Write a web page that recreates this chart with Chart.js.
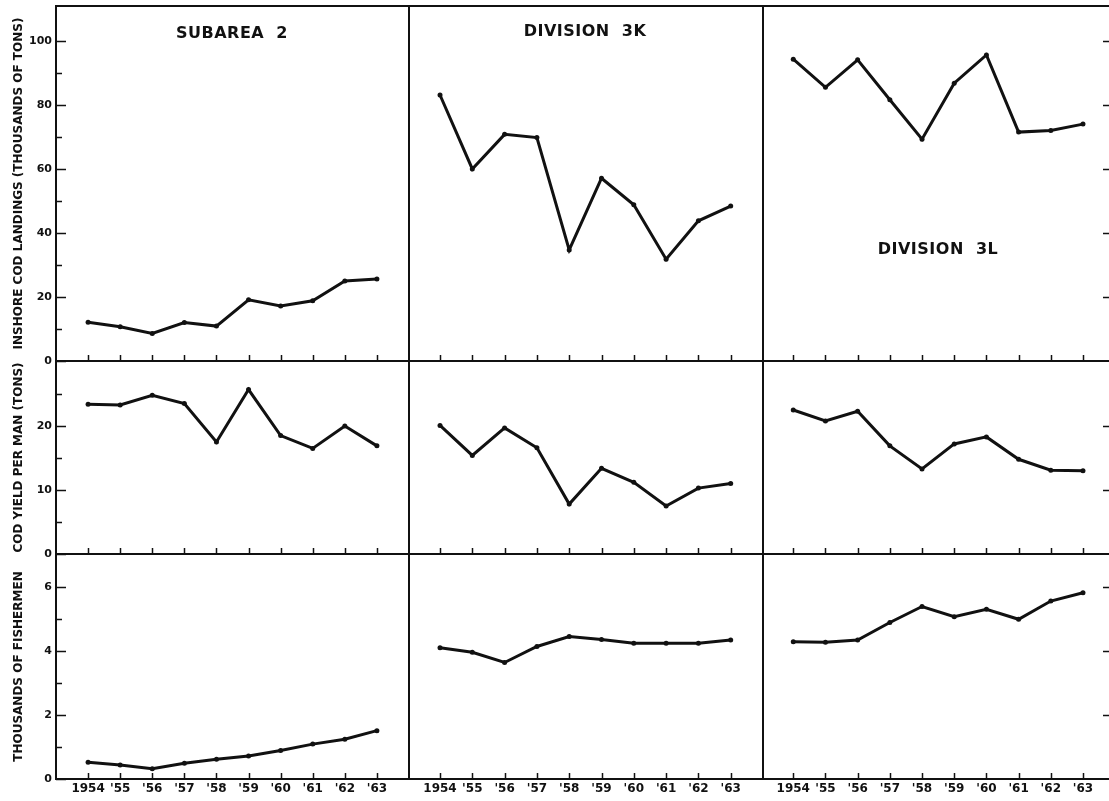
<!DOCTYPE html>
<html>
<head>
<meta charset="utf-8">
<script src="https://cdn.jsdelivr.net/npm/chart.js@4.4.0/dist/chart.umd.min.js"></script>
<style>
html, body { margin: 0; padding: 0; width: 1109px; height: 801px; overflow: hidden; background: #fff; }
canvas { position: absolute; }
.panel-title {
    position: absolute;
    font-family: "DejaVu Sans", sans-serif;
    font-weight: bold;
    font-size: 16px;
    letter-spacing: 0.5px;
    white-space: pre;
    color: #111;
    transform: translate(-50%, -50%);
}
</style>
</head>
<body>
<div id="panels"></div>
<div class="panel-title" style="left:232px; top:32px;">SUBAREA  2</div>
<div class="panel-title" style="left:585px; top:30px;">DIVISION  3K</div>
<div class="panel-title" style="left:938px; top:248px;">DIVISION  3L</div>
<script>
// values, 1954-1963
const years = [1954, 1955, 1956, 1957, 1958, 1959, 1960, 1961, 1962, 1963];
const yearLabels = ['1954', "'55", "'56", "'57", "'58", "'59", "'60", "'61", "'62", "'63"];

const landingsSubarea2 = [12.1, 10.7, 8.6, 12.0, 10.9, 19.1, 17.2, 18.8, 25.0, 25.6];
const landings3K = [83.1, 60.0, 70.8, 69.8, 34.7, 57.1, 48.8, 31.8, 43.8, 48.4];
const landings3L = [94.3, 85.5, 94.1, 81.6, 69.3, 86.8, 95.6, 71.5, 72.0, 74.0];

const yieldSubarea2 = [23.4, 23.3, 24.8, 23.5, 17.5, 25.7, 18.5, 16.5, 20.0, 16.9];
const yield3K = [20.1, 15.4, 19.7, 16.6, 7.8, 13.4, 11.2, 7.5, 10.3, 11.0];
const yield3L = [22.5, 20.8, 22.3, 16.9, 13.3, 17.2, 18.3, 14.8, 13.1, 13.0];

const fishermenSubarea2 = [0.52, 0.44, 0.32, 0.49, 0.62, 0.72, 0.89, 1.09, 1.24, 1.51];
const fishermen3K = [4.10, 3.96, 3.64, 4.14, 4.45, 4.36, 4.24, 4.24, 4.24, 4.34];
const fishermen3L = [4.29, 4.27, 4.34, 4.89, 5.39, 5.07, 5.30, 4.99, 5.56, 5.82];

// tick labels
const landingsTicks = [0, 20, 40, 60, 80, 100];
const landingsMinor = [10, 30, 50, 70, 90];
const yieldTicks = [0, 10, 20];
const yieldMinor = [5, 15, 25];
const fishermenTicks = [0, 2, 4, 6];
const fishermenMinor = [1, 3, 5];

const INK = '#111';
const FONT = '"DejaVu Sans", sans-serif';

// page geometry of the 3x3 grid
const cols = [
    { left: 56, right: 409, xMin: 1953.0, xMax: 1964.0 },
    { left: 409, right: 763, xMin: 1953.04, xMax: 1964.0 },
    { left: 763, right: 1111, xMin: 1953.06, xMax: 1963.87 }
];
const rows = [
    { top: 6, bottom: 361, max: 110.9, major: landingsTicks, minor: landingsMinor,
      title: 'INSHORE COD LANDINGS (THOUSANDS OF TONS)',
      series: [landingsSubarea2, landings3K, landings3L] },
    { top: 361, bottom: 554, max: 30.16, major: yieldTicks, minor: yieldMinor,
      title: 'COD YIELD PER MAN (TONS)',
      series: [yieldSubarea2, yield3K, yield3L] },
    { top: 554, bottom: 779, max: 7.03, major: fishermenTicks, minor: fishermenMinor,
      title: 'THOUSANDS OF FISHERMEN',
      series: [fishermenSubarea2, fishermen3K, fishermen3L] }
];

// short tick marks pointing into the plot, plus the top frame line
const inwardTicks = {
    id: 'inwardTicks',
    afterDatasetsDraw(chart, args, opts) {
        const ctx = chart.ctx;
        const a = chart.chartArea;
        const x = chart.scales.x;
        const y = chart.scales.y;
        ctx.save();
        ctx.strokeStyle = INK;
        ctx.lineWidth = 1.5;
        ctx.beginPath();
        x.ticks.forEach(function (t) {
            const px = Math.round(x.getPixelForValue(t.value)) + 0.5;
            ctx.moveTo(px, a.bottom);
            ctx.lineTo(px, a.bottom - 6);
        });
        if (opts.left) {
            y.ticks.forEach(function (t) {
                const py = Math.round(y.getPixelForValue(t.value)) + 0.5;
                const len = opts.major.includes(t.value) ? 10 : 6;
                ctx.moveTo(a.left, py);
                ctx.lineTo(a.left + len, py);
            });
        }
        if (opts.right) {
            opts.major.forEach(function (v) {
                if (v === 0) return;
                const py = Math.round(y.getPixelForValue(v)) + 0.5;
                ctx.moveTo(a.right, py);
                ctx.lineTo(a.right - 8, py);
            });
        }
        ctx.stroke();
        if (opts.top) {
            ctx.lineWidth = 2;
            ctx.beginPath();
            ctx.moveTo(a.left, a.top);
            ctx.lineTo(a.right, a.top);
            ctx.stroke();
        }
        ctx.restore();
    }
};

function makePanel(ci, ri) {
    const col = cols[ci];
    const row = rows[ri];
    const padL = ci === 0 ? 56 : 10;
    const padR = 4;
    const padT = 4;
    const padB = ri === 2 ? 24 : 4;
    const w = col.right - col.left;
    const h = row.bottom - row.top;

    const canvas = document.createElement('canvas');
    canvas.width = w + padL + padR;
    canvas.height = h + padT + padB;
    canvas.style.left = (col.left - padL) + 'px';
    canvas.style.top = (row.top - padT) + 'px';
    document.getElementById('panels').appendChild(canvas);

    const values = row.series[ci];
    const points = years.map(function (yr, i) { return { x: yr, y: values[i] }; });

    new Chart(canvas, {
        type: 'line',
        data: {
            datasets: [{
                data: points,
                borderColor: INK,
                borderWidth: 3,
                pointRadius: 2.5,
                pointBackgroundColor: INK,
                pointBorderWidth: 0,
                tension: 0
            }]
        },
        plugins: [inwardTicks],
        options: {
            responsive: false,
            animation: false,
            devicePixelRatio: 1,
            layout: { padding: { top: padT, right: padR, left: 0, bottom: 0 } },
            plugins: {
                legend: { display: false },
                tooltip: { enabled: false },
                inwardTicks: {
                    left: ci === 0,
                    right: ci === 2,
                    top: ri === 0,
                    major: row.major
                }
            },
            scales: {
                x: {
                    type: 'linear',
                    min: col.xMin,
                    max: col.xMax,
                    afterBuildTicks: function (scale) {
                        scale.ticks = years.map(function (v) { return { value: v }; });
                    },
                    afterFit: function (scale) {
                        scale.height = padB;
                        scale.paddingLeft = 0;
                        scale.paddingRight = 0;
                    },
                    grid: { drawOnChartArea: false, drawTicks: false },
                    border: { display: true, color: INK, width: 2 },
                    ticks: {
                        display: ri === 2,
                        padding: 3,
                        color: INK,
                        maxRotation: 0,
                        autoSkip: false,
                        font: { family: FONT, size: 12, weight: 'bold' },
                        callback: function (value) {
                            const i = years.indexOf(value);
                            return i >= 0 ? yearLabels[i] : '';
                        }
                    }
                },
                y: {
                    min: 0,
                    max: row.max,
                    afterBuildTicks: function (scale) {
                        scale.ticks = row.major.concat(row.minor).map(function (v) { return { value: v }; });
                    },
                    afterFit: function (scale) {
                        scale.width = padL;
                        scale.paddingTop = 0;
                        scale.paddingBottom = 0;
                    },
                    grid: { drawOnChartArea: false, drawTicks: false },
                    border: { display: true, color: INK, width: 2 },
                    title: {
                        display: ci === 0,
                        text: row.title,
                        color: INK,
                        padding: { top: 12, bottom: 0 },
                        font: { family: FONT, size: 12, weight: 'bold' }
                    },
                    ticks: {
                        display: ci === 0,
                        padding: 4,
                        color: INK,
                        autoSkip: false,
                        font: { family: FONT, size: 11, weight: 'bold' },
                        callback: function (value) {
                            return row.major.includes(value) ? String(value) : '';
                        }
                    }
                }
            }
        }
    });
}

rows.forEach(function (row, ri) {
    cols.forEach(function (col, ci) {
        makePanel(ci, ri);
    });
});
</script>
</body>
</html>
